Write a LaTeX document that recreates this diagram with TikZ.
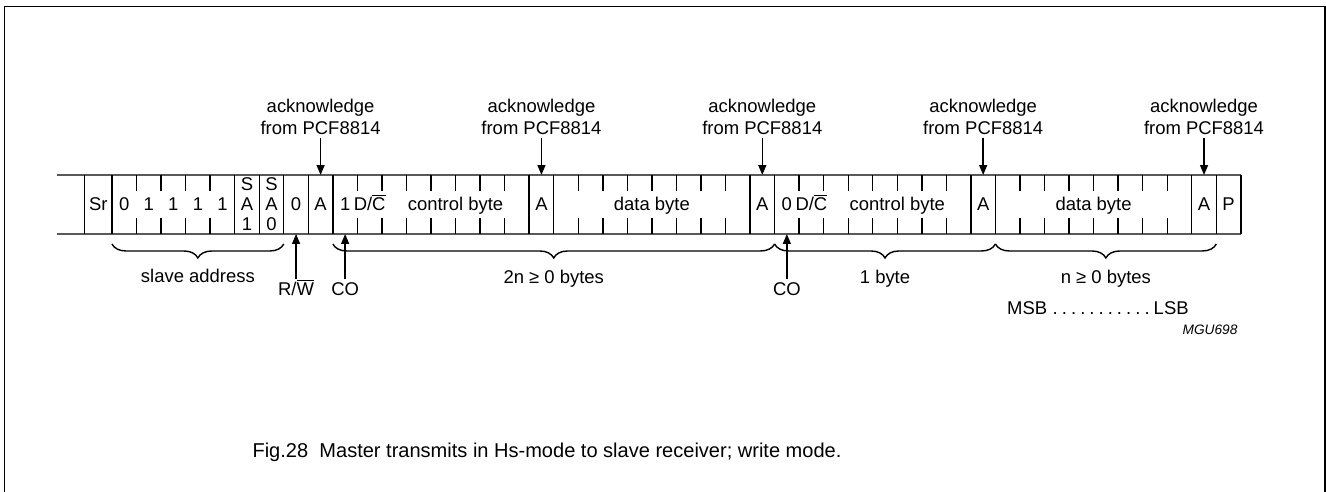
\documentclass[tikz,border=0pt]{standalone}
\usepackage{fontspec}
\setmainfont{Liberation Sans}
\usepackage{tikz}
\usetikzlibrary{arrows.meta,positioning,decorations.pathreplacing}
\newcommand{\labfont}{\fontsize{10.5}{12.6}\selectfont}
\newcommand{\msbdot}{.\hspace{0.22em}}
\tikzset{
  cell/.style={minimum width=0.4908cm,minimum height=1.18cm,inner sep=0pt,outer sep=0pt},
  bit/.style={font=\labfont,inner sep=0pt,text height=0.72em,text depth=0pt},
  stk/.style={font=\fontsize{10.5}{11.4}\selectfont,align=center,inner sep=0pt},
  ack/.style={font=\labfont,align=center,inner sep=1pt},
  bot/.style={font=\labfont,inner sep=1pt,text height=0.78em,text depth=0.22em},
  arr/.style={-{Triangle[length=0.2cm,width=0.16cm]},line width=0.8pt},
  brc/.style={decorate,decoration={brace,mirror,amplitude=0.28cm},line width=0.8pt},
}

\begin{document}
\begin{tikzpicture}[x=0.02cm,y=-0.02cm,line width=0.8pt]
\useasboundingbox (0,0) rectangle (1326,492);
\draw[line width=1.1pt] (4.5,492) -- (4.5,6.5) -- (1325,6.5) -- (1325,492);
\node[cell,minimum width=0.55cm] (sr) at (98.25,204.5) {};
\foreach \k in {0,...,45} \node[cell] (c\k) at ({112+(\k+0.5)*24.54},204.5) {};
\draw (57,175) -- (c45.north east);
\draw (57,234) -- (c45.south east);
\draw (sr.north west) -- (sr.south west);
\foreach \k in {0,5,6,7,8,9,17,18,26,27,35,36,44,45} \draw (c\k.north west) -- (c\k.south west);
\draw (c45.north east) -- (c45.south east);
\foreach \k in {1,2,3,4,10,11,12,13,14,15,16,19,20,21,22,23,24,25,28,29,30,31,32,33,34,37,38,39,40,41,42,43}
  \draw (c\k.north west) -- ++(0,16) (c\k.south west) -- ++(0,-16);
\node[bit] (tsr) at (sr) {Sr};
\foreach \k/\t in {0/0,1/1,2/1,3/1,4/1,7/0,8/A,9/1,17/A,26/A,27/0,35/A,44/A,45/P}
  \node[bit] (t\k) at (c\k) {\t};
\node[stk] (t5) at (c5) {S\\A\\1};
\node[stk] (t6) at (c6) {S\\A\\0};
\node[bit] (t10) at (c10) {D/$\overline{\mbox{C}}$};
\node[bit] (t28) at (c28) {D/$\overline{\mbox{C}}$};
\path (c11.west) -- (c16.east) node[bit,midway] (cb1) {control byte};
\path (c18.west) -- (c25.east) node[bit,midway] (db1) {data byte};
\path (c29.west) -- (c34.east) node[bit,midway] (cb2) {control byte};
\path (c36.west) -- (c43.east) node[bit,midway] (db2) {data byte};
\foreach \k [count=\i] in {8,17,26,35,44} {
  \node[ack,above=0.75cm of c\k] (ack\i) {acknowledge\\from PCF8814};
  \draw[arr] (ack\i) -- (c\k.north);
}
\node[bot,below=0.9cm of c7] (rw) {R/$\overline{\mbox{W}}$};
\node[bot,below=0.9cm of c9] (co1) {CO};
\node[bot,below=0.9cm of c27] (co2) {CO};
\draw[arr] (rw) -- (c7.south);
\draw[arr] (co1) -- (c9.south);
\draw[arr] (co2) -- (c27.south);
\draw[brc] ([yshift=-0.2cm]c0.south west) -- ([yshift=-0.2cm]c6.south east)
  node[midway,below=0.37cm,font=\labfont] (slv) {slave address};
\draw[brc] ([yshift=-0.2cm]c9.south west) -- ([yshift=-0.2cm]c26.south east)
  node[midway,below=0.39cm,font=\labfont] (nb2) {2n ≥ 0 bytes};
\draw[brc] ([yshift=-0.2cm]c27.south west) -- ([yshift=-0.2cm]c35.south east)
  node[midway,below=0.39cm,font=\labfont] (nb1) {1 byte};
\draw[brc] ([yshift=-0.2cm]c36.south west) -- ([yshift=-0.2cm]c44.south east)
  node[midway,below=0.39cm,font=\labfont] (nbn) {n ≥ 0 bytes};
\node[font=\labfont,below=0.02cm of nbn,xshift=-0.16cm] (msb)
  {MSB\hspace{0.3em}\msbdot\msbdot\msbdot\msbdot\msbdot\msbdot\msbdot\msbdot\msbdot\msbdot\msbdot LSB};
\node[font=\fontsize{7.8}{9}\selectfont\itshape] (mgu) at (1210,330) {MGU698};
\node[font=\fontsize{11.4}{13.7}\selectfont,anchor=base west] (cap) at (246,458)
  {Fig.28\hspace{0.56em}Master transmits in Hs-mode to slave receiver; write mode.};
\end{tikzpicture}
\end{document}
